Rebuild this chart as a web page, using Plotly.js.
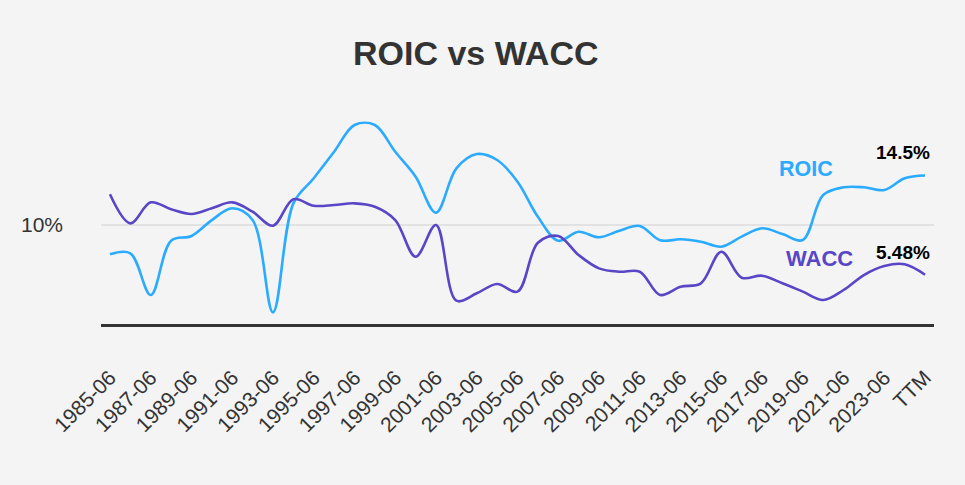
<!DOCTYPE html>
<html>
<head>
<meta charset="utf-8">
<script src="https://cdn.plot.ly/plotly-3.0.1.min.js"></script>
<style>
  html, body { margin: 0; padding: 0; background: #f4f4f4; }
  #chart { width: 965px; height: 485px; }
</style>
</head>
<body>
<div id="chart"></div>
<script>
const categories = [
  "1985-06","1986-06","1987-06","1988-06","1989-06","1990-06","1991-06","1992-06",
  "1993-06","1994-06","1995-06","1996-06","1997-06","1998-06","1999-06","2000-06",
  "2001-06","2002-06","2003-06","2004-06","2005-06","2006-06","2007-06","2008-06",
  "2009-06","2010-06","2011-06","2012-06","2013-06","2014-06","2015-06","2016-06",
  "2017-06","2018-06","2019-06","2020-06","2021-06","2022-06","2023-06","2024-06","TTM"
];
const roic = [
  7.34, 7.43, 3.64, 8.57, 9.00, 10.45, 11.52, 10.45, 2.06, 11.97,
  14.25, 16.66, 19.09, 19.09, 16.66, 14.39, 11.12, 15.15, 16.45, 15.91,
  13.94, 10.75, 8.57, 9.39, 8.88, 9.48, 9.91, 8.61, 8.70, 8.48,
  8.03, 8.94, 9.70, 9.18, 8.64, 12.73, 13.43, 13.43, 13.18, 14.25, 14.5
];
const wacc = [
  12.79, 10.15, 12.06, 11.43, 11.00, 11.52, 12.06, 11.21, 9.94, 12.34,
  11.75, 11.82, 11.97, 11.66, 10.45, 7.12, 10.00, 3.12, 3.79, 4.64,
  3.94, 8.39, 9.00, 7.27, 6.06, 5.75, 5.75, 3.64, 4.39, 4.70,
  7.57, 5.21, 5.39, 4.70, 3.94, 3.18, 4.09, 5.45, 6.27, 6.43, 5.48
];
const tickLabels = categories.filter((c, i) => i % 2 === 0 || i === categories.length - 1);
const yTickVals = [10];
const yTickText = ["10%"];

const roicColor = "#2aabff";
const waccColor = "#5846c6";
const font = "Liberation Sans, Arial, Helvetica, sans-serif";
const last = categories.length - 1;

const traces = [
  { x: categories, y: roic, type: "scatter", mode: "lines", name: "ROIC",
    line: { color: roicColor, width: 2.6, shape: "spline", smoothing: 1 }, hoverinfo: "skip" },
  { x: categories, y: wacc, type: "scatter", mode: "lines", name: "WACC",
    line: { color: waccColor, width: 2.6, shape: "spline", smoothing: 1 }, hoverinfo: "skip" }
];

const layout = {
  width: 965, height: 485,
  paper_bgcolor: "#f4f4f4", plot_bgcolor: "#f4f4f4",
  margin: { l: 101, r: 31, t: 105, b: 161 },
  showlegend: false,
  title: { text: "ROIC vs WACC", x: 0.493, xref: "container", y: 0.89, yref: "container",
    xanchor: "center", yanchor: "middle",
    font: { family: font, size: 34, color: "#333333", weight: 700 } },
  xaxis: {
    type: "category", range: [-0.44, 40.44],
    tickmode: "array", tickvals: tickLabels, ticktext: tickLabels,
    tickangle: -45, ticks: "", ticklabelstandoff: 30,
    tickfont: { family: font, size: 21, color: "#333333" },
    showgrid: false, zeroline: false,
    showline: true, linecolor: "#333333", linewidth: 3
  },
  yaxis: {
    range: [1.0, 20.91],
    tickmode: "array", tickvals: yTickVals, ticktext: yTickText,
    tickfont: { family: font, size: 21, color: "#333333" },
    ticks: "", ticklabelstandoff: 37,
    showgrid: true, gridcolor: "#e2e2e2", gridwidth: 2,
    zeroline: false, showline: false
  },
  annotations: [
    { xref: "paper", yref: "paper", x: 0.846, y: 0.708, text: "ROIC", showarrow: false,
      xanchor: "center", yanchor: "middle",
      font: { family: font, size: 21.5, color: roicColor, weight: 700 } },
    { xref: "paper", yref: "paper", x: 0.863, y: 0.301, text: "WACC", showarrow: false,
      xanchor: "center", yanchor: "middle",
      font: { family: font, size: 22, color: waccColor, weight: 700 } },
    { x: categories[last], y: roic[last], text: roic[last] + "%", showarrow: false,
      xanchor: "right", yanchor: "middle", xshift: 7, yshift: 23,
      font: { family: font, size: 19, color: "#000000", weight: 700 } },
    { x: categories[last], y: wacc[last], text: wacc[last] + "%", showarrow: false,
      xanchor: "right", yanchor: "middle", xshift: 7, yshift: 22,
      font: { family: font, size: 19, color: "#000000", weight: 700 } }
  ]
};

Plotly.newPlot("chart", traces, layout, { staticPlot: true, displayModeBar: false });
</script>
</body>
</html>
